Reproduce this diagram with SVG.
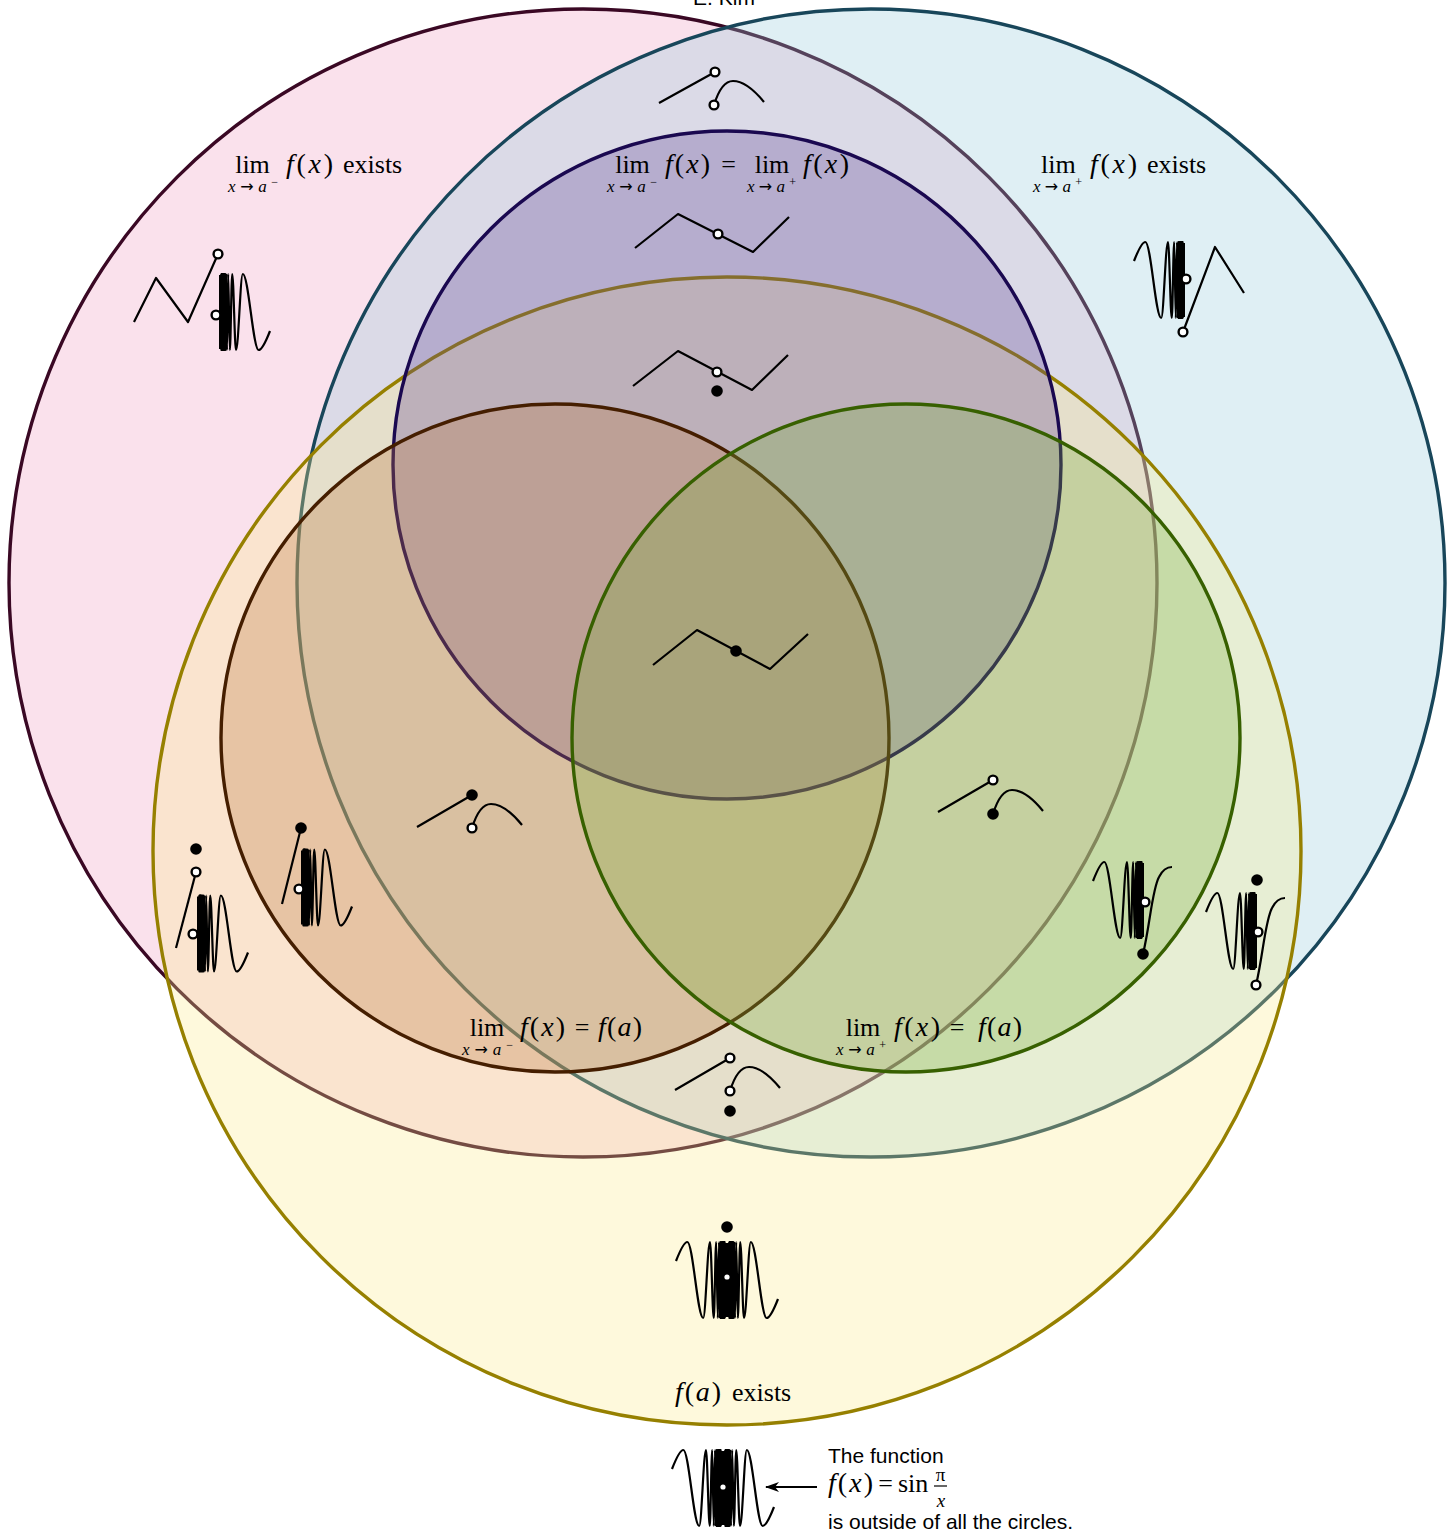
<svg xmlns="http://www.w3.org/2000/svg" width="1453" height="1534" viewBox="0 0 1453 1534">
<style>
.set{fill-opacity:.3;stroke-width:3.4}
.w{fill:none;stroke:#000;stroke-width:2.2;stroke-linejoin:round}
.o{fill:#fff;stroke:#000;stroke-width:2.4}
.d{fill:#000}
.h{fill:#fff}
.m{font-family:"Liberation Serif","Times New Roman",serif;font-size:26px;fill:#000}
.fx{font-family:"Liberation Serif","Times New Roman",serif;font-size:28px;fill:#000}
.s{font-family:"Liberation Serif","DejaVu Serif",serif;font-size:17px;fill:#000}
.ar{font-family:"DejaVu Sans",sans-serif;font-size:16px}
.f{font-family:"Liberation Serif","Times New Roman",serif;font-size:19px;fill:#000}
.i{font-style:italic}
.t{font-family:"Liberation Sans",Arial,sans-serif;font-size:21px;fill:#000}
</style>
<defs>
<g id="hw"><path class="w" d="M51,19 C46.5,30.5 42.5,38 39.7,38 C34,38 29.5,-38 23.8,-38 C21.35,-38 19.45,38 17,38 C15.64,38 14.58,-38 13.22,-38 C12.36,-38 11.68,38 10.82,38 C10.22,38 9.75,-38 9.15,-38 C8.71,-38 8.37,38 7.93,38 C7.6,38 7.33,-38 7,-38 L6.26,38 L5.67,-38 L5.17,38 L4.76,-38 L4.41,38 L4.1,-38 L3.84,38 L3.61,-38 L3.4,38 L3.22,-38 L3.05,38 L2.9,-38 L2.75,38 L2.6,-38 L2.45,38 L2.3,-38"/><rect x="0" y="-37" width="2.6" height="74"/></g>
<g id="fw"><use href="#hw"/><use href="#hw" transform="rotate(180)"/></g>
<marker id="ah" markerWidth="14" markerHeight="10" refX="13" refY="5" orient="auto" markerUnits="userSpaceOnUse"><path d="M0,0 L14,5 L0,10 L4,5 Z" fill="#000"/></marker>
</defs>
<rect width="1453" height="1534" fill="#fff"/>
<g id="sets">
<circle id="set-left-limit" class="set" cx="583" cy="583" r="574" fill="#ee9cc0" stroke="#3a0824"/>
<circle id="set-right-limit" class="set" cx="871" cy="583" r="574" fill="#94cada" stroke="#18465a"/>
<circle id="set-fa-exists" class="set" cx="727" cy="851" r="574" fill="#fceb8a" stroke="#968000"/>
<circle id="set-limits-equal" class="set" cx="727" cy="465" r="334" fill="#604796" stroke="#1a0850"/>
<circle id="set-left-continuous" class="set" cx="555" cy="738" r="334" fill="#be7942" stroke="#451e00"/>
<circle id="set-right-continuous" class="set" cx="906" cy="738" r="334" fill="#7aae3e" stroke="#376000"/>
</g>
<g id="examples">
<g id="ex-jump-top">
<path class="w" d="M659,103 L715,72 M714,105 C718,92 724,81 733,81 C744,81 755,91 764,102"/>
<circle class="o" cx="715" cy="72" r="4.4"/><circle class="o" cx="714" cy="105" r="4.4"/>
</g>
<g id="ex-removable">
<path class="w" d="M635,248 L678,214 L753,252 L789,217"/>
<circle class="o" cx="718" cy="234" r="4.4"/>
</g>
<g id="ex-removable-defined">
<path class="w" d="M633,386 L678,351 L752,390 L788,355"/>
<circle class="o" cx="717" cy="372" r="4.4"/><circle class="d" cx="717" cy="391" r="5.8"/>
</g>
<g id="ex-continuous">
<path class="w" d="M653,665 L697,630 L770,669 L808,634"/>
<circle class="d" cx="736" cy="651" r="5.8"/>
</g>
<g id="ex-jump-left-cont">
<path class="w" d="M417,827 L472,795 M472,828 C476,815 482,804 491,804 C502,804 513,814 522,825"/>
<circle class="d" cx="472" cy="795" r="5.8"/><circle class="o" cx="472" cy="828" r="4.4"/>
</g>
<g id="ex-jump-right-cont">
<path class="w" d="M938,812 L993,780 M993,814 C997,801 1003,790 1012,790 C1023,790 1034,800 1043,811"/>
<circle class="o" cx="993" cy="780" r="4.4"/><circle class="d" cx="993" cy="814" r="5.8"/>
</g>
<g id="ex-jump-defined">
<path class="w" d="M675,1090 L730,1058 M730,1091 C734,1078 740,1067 749,1067 C760,1067 771,1077 780,1088"/>
<circle class="o" cx="730" cy="1058" r="4.4"/><circle class="o" cx="730" cy="1091" r="4.4"/><circle class="d" cx="730" cy="1111" r="5.8"/>
</g>
<g id="ex-left-only">
<use href="#hw" transform="translate(219,312)"/>
<path class="w" d="M134,322 L156,278 L188,322 L218,254"/>
<circle class="o" cx="218" cy="254" r="4.4"/><circle class="o" cx="216" cy="315" r="4.4"/>
</g>
<g id="ex-right-only">
<use href="#hw" transform="translate(1185,280) rotate(180)"/>
<path class="w" d="M1183,332 L1215,247 L1244,293"/>
<circle class="o" cx="1186" cy="279" r="4.4"/><circle class="o" cx="1183" cy="332" r="4.4"/>
</g>
<g id="ex-left-defined">
<use href="#hw" transform="translate(197,933.5)"/>
<path class="w" d="M176,948 L196,872"/>
<circle class="o" cx="196" cy="872" r="4.4"/><circle class="d" cx="196" cy="849" r="5.8"/><circle class="o" cx="193" cy="934" r="4.4"/>
</g>
<g id="ex-left-cont-only">
<use href="#hw" transform="translate(301,887.5)"/>
<path class="w" d="M282,904 L301,828"/>
<circle class="d" cx="301" cy="828" r="5.8"/><circle class="o" cx="299" cy="889" r="4.4"/>
</g>
<g id="ex-right-cont-only">
<use href="#hw" transform="translate(1144,900) rotate(180)"/>
<path class="w" d="M1143,954 C1150,925 1152,890 1159,877 C1163,869 1167,867 1172,867"/>
<circle class="o" cx="1145" cy="902" r="4.4"/><circle class="d" cx="1143" cy="954" r="5.8"/>
</g>
<g id="ex-right-defined">
<use href="#hw" transform="translate(1257,931) rotate(180)"/>
<path class="w" d="M1256,985 C1263,956 1265,921 1272,908 C1276,900 1280,898 1285,898"/>
<circle class="d" cx="1257" cy="880" r="5.8"/><circle class="o" cx="1258" cy="932" r="4.4"/><circle class="o" cx="1256" cy="985" r="4.4"/>
</g>
<g id="ex-only-defined">
<use href="#fw" transform="translate(727,1280)"/>
<circle class="d" cx="727" cy="1227" r="5.8"/><circle class="h" cx="727" cy="1277" r="2.6"/>
</g>
<g id="ex-outside">
<use href="#fw" transform="translate(723,1488)"/>
<circle class="h" cx="723" cy="1487" r="2.6"/>
</g>
</g>
<g id="connectors">
<line x1="817" y1="1487" x2="766" y2="1487" stroke="#000" stroke-width="2" marker-end="url(#ah)"/>
</g>
<g id="labels">
<text class="t" x="724" y="5" text-anchor="middle">E. Kim</text>
<g id="label-left-limit">
<text class="m" x="252.5" y="173" text-anchor="middle">lim</text>
<text class="fx" x="286" y="173" textLength="47" lengthAdjust="spacing"><tspan class="i">f</tspan>(<tspan class="i">x</tspan>)</text>
<text class="m" x="343" y="173">exists</text>
<text class="s" x="228" y="192" textLength="50" lengthAdjust="spacing"><tspan class="i">x</tspan><tspan class="ar">→</tspan><tspan class="i">a</tspan><tspan dy="-6" font-size="12">−</tspan></text>
</g>
<g id="label-right-limit">
<text class="m" x="1058.3" y="173" text-anchor="middle">lim</text>
<text class="fx" x="1090" y="173" textLength="47" lengthAdjust="spacing"><tspan class="i">f</tspan>(<tspan class="i">x</tspan>)</text>
<text class="m" x="1147" y="173">exists</text>
<text class="s" x="1033" y="192" textLength="49" lengthAdjust="spacing"><tspan class="i">x</tspan><tspan class="ar">→</tspan><tspan class="i">a</tspan><tspan dy="-6" font-size="12">+</tspan></text>
</g>
<g id="label-limits-equal">
<text class="m" x="632.5" y="173" text-anchor="middle">lim</text>
<text class="fx" x="665" y="173" textLength="45" lengthAdjust="spacing"><tspan class="i">f</tspan>(<tspan class="i">x</tspan>)</text>
<text class="m" x="728.5" y="173" text-anchor="middle">=</text>
<text class="m" x="772" y="173" text-anchor="middle">lim</text>
<text class="fx" x="803" y="173" textLength="46" lengthAdjust="spacing"><tspan class="i">f</tspan>(<tspan class="i">x</tspan>)</text>
<text class="s" x="607" y="192" textLength="50" lengthAdjust="spacing"><tspan class="i">x</tspan><tspan class="ar">→</tspan><tspan class="i">a</tspan><tspan dy="-6" font-size="12">−</tspan></text>
<text class="s" x="747" y="192" textLength="49" lengthAdjust="spacing"><tspan class="i">x</tspan><tspan class="ar">→</tspan><tspan class="i">a</tspan><tspan dy="-6" font-size="12">+</tspan></text>
</g>
<g id="label-left-continuous">
<text class="m" x="487" y="1036" text-anchor="middle">lim</text>
<text class="fx" x="520" y="1036" textLength="45" lengthAdjust="spacing"><tspan class="i">f</tspan>(<tspan class="i">x</tspan>)</text>
<text class="m" x="582" y="1036" text-anchor="middle">=</text>
<text class="fx" x="598" y="1036" textLength="44" lengthAdjust="spacing"><tspan class="i">f</tspan>(<tspan class="i">a</tspan>)</text>
<text class="s" x="462" y="1055" textLength="51" lengthAdjust="spacing"><tspan class="i">x</tspan><tspan class="ar">→</tspan><tspan class="i">a</tspan><tspan dy="-6" font-size="12">−</tspan></text>
</g>
<g id="label-right-continuous">
<text class="m" x="863" y="1036" text-anchor="middle">lim</text>
<text class="fx" x="894" y="1036" textLength="46" lengthAdjust="spacing"><tspan class="i">f</tspan>(<tspan class="i">x</tspan>)</text>
<text class="m" x="957" y="1036" text-anchor="middle">=</text>
<text class="fx" x="978" y="1036" textLength="44" lengthAdjust="spacing"><tspan class="i">f</tspan>(<tspan class="i">a</tspan>)</text>
<text class="s" x="836" y="1055" textLength="50" lengthAdjust="spacing"><tspan class="i">x</tspan><tspan class="ar">→</tspan><tspan class="i">a</tspan><tspan dy="-6" font-size="12">+</tspan></text>
</g>
<g id="label-fa-exists">
<text class="fx" x="675" y="1401" textLength="46" lengthAdjust="spacing"><tspan class="i">f</tspan>(<tspan class="i">a</tspan>)</text>
<text class="m" x="732" y="1401">exists</text>
</g>
<g id="label-note">
<text class="t" x="828" y="1463">The function</text>
<text class="fx" x="828" y="1492" textLength="45" lengthAdjust="spacing"><tspan class="i">f</tspan>(<tspan class="i">x</tspan>)</text>
<text class="m" x="885.5" y="1492" text-anchor="middle">=</text>
<text class="m" x="898" y="1492">sin</text>
<text class="f" x="940.5" y="1481" text-anchor="middle" font-size="17">π</text>
<line x1="934" y1="1486" x2="947" y2="1486" stroke="#000" stroke-width="1.2"/>
<text class="f i" x="941" y="1507" text-anchor="middle">x</text>
<text class="t" x="828" y="1529">is outside of all the circles.</text>
</g>
</g>
</svg>
